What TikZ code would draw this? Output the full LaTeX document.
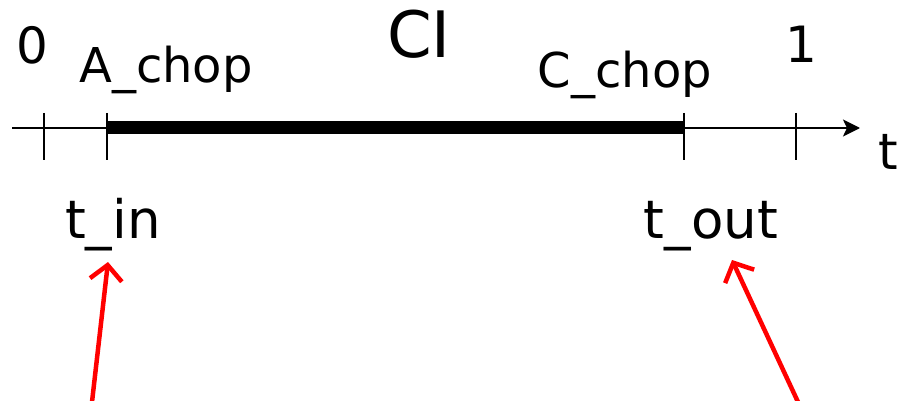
\documentclass[tikz,border=0pt]{standalone}
\usepackage{fontspec}
\setmainfont{DejaVu Sans}
\usepackage{tikz}
\usetikzlibrary{arrows.meta}

\begin{document}
\begin{tikzpicture}[x=1pt,y=-1pt]
            \tikzstyle{mark label}=[inner sep=0pt, anchor=base, font=\fontsize{50}{50}\selectfont]
            \tikzstyle{time label}=[inner sep=0pt, anchor=base, font=\fontsize{53}{53}\selectfont]
            \tikzstyle{chop label}=[inner sep=0pt, anchor=base, font=\fontsize{48}{48}\selectfont]
            \tikzstyle{axis}=[line width=2.2pt, -{Stealth[length=17pt,width=17pt,inset=4pt]}]
            \tikzstyle{tick}=[line width=2.2pt]
            \tikzstyle{interval}=[line width=13pt]
            \tikzstyle{pointer}=[red, line width=4.5pt, -{Straight Barb[length=15pt,width=32pt,line width=4.5pt]}]
            \useasboundingbox (0,0) rectangle (900,401);
            \coordinate (O) at (12,128);
            \coordinate (E) at (860,128);
            \coordinate (T0) at (44,128);
            \coordinate (TA) at (107,128);
            \coordinate (TC) at (684,128);
            \coordinate (T1) at (796,128);
            \node[mark label] (zero) at (32,64){0};
            \node[chop label] (Achop) at (166,83){A\_chop};
            \node[inner sep=0pt, anchor=base, font=\fontsize{64}{64}\selectfont] (CI) at (419,58){CI};
            \node[chop label] (Cchop) at (625,88){C\_chop};
            \node[mark label] (one) at (801,63){1};
            \node[mark label, anchor=base west] (t) at (878,170){t};
            \node[time label] (tin) at (113,238){t\_in};
            \node[time label] (tout) at (711,238){t\_out};
            \coordinate (Pin) at (92,402);
            \coordinate (Hin) at (108,262);
            \coordinate (Pout) at (798,402);
            \coordinate (Hout) at (732,260);
            \draw[axis] (O) -- (E);
            \draw[interval] (TA) -- (TC);
            \foreach \k in {T0,TA,TC,T1}
                \draw[tick] ([yshift=15pt]\k) -- ([yshift=-32pt]\k);
            \draw[pointer] (Pin) -- (Hin);
            \draw[pointer] (Pout) -- (Hout);
        \end{tikzpicture}
\end{document}
